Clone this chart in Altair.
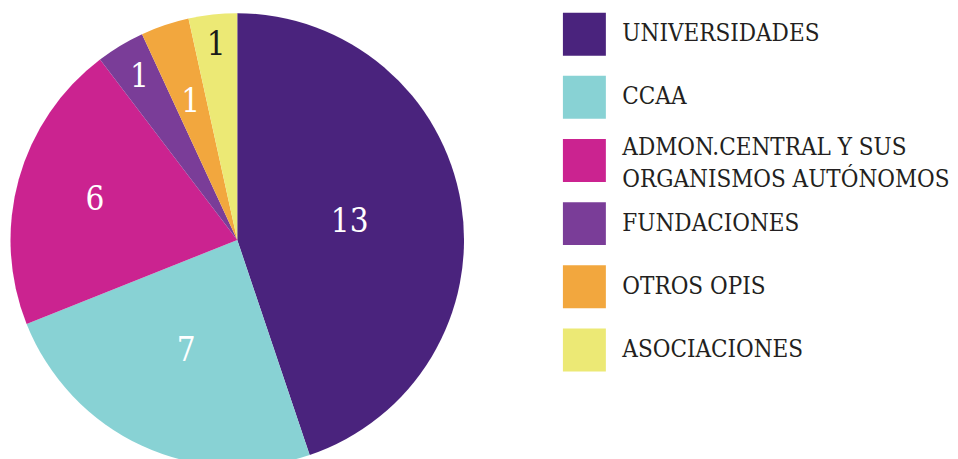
import altair as alt
import pandas as pd

categories = ["UNIVERSIDADES", "CCAA", "ADMON.CENTRAL Y SUS ORGANISMOS AUTÓNOMOS",
              "FUNDACIONES", "OTROS OPIS", "ASOCIACIONES"]
legend_labels = ["UNIVERSIDADES", "CCAA", "ADMON.CENTRAL Y SUS\nORGANISMOS AUTÓNOMOS",
                 "FUNDACIONES", "OTROS OPIS", "ASOCIACIONES"]
counts = [13, 7, 6, 1, 1, 1]
colors = ["#4a237d", "#88d2d4", "#cb2390", "#7a3d98", "#f2a73e", "#ece975"]

df = pd.DataFrame({
    "category": categories,
    "legend": legend_labels,
    "count": counts,
    "order": list(range(len(categories))),
})

FONT = "DejaVu Serif Condensed, DejaVu Serif, serif"
color_scale = alt.Scale(domain=categories, range=colors)

pie_base = alt.Chart(df).encode(
    theta=alt.Theta("count:Q", stack=True),
    order=alt.Order("order:Q"),
)
arcs = pie_base.mark_arc(outerRadius=227).encode(
    color=alt.Color("category:N", scale=color_scale, legend=None)
)
labels = pie_base.mark_text(
    font=FONT, fontSize=33,
    radius=alt.expr("[114, 122, 148, 190, 146, 196][datum.order]"),
).encode(
    text="count:Q",
    color=alt.condition("datum.category == 'ASOCIACIONES'", alt.value("#1a1a1a"), alt.value("#ffffff")),
)
pie = alt.layer(arcs, labels).properties(width=459, height=464)

leg_base = alt.Chart(df).encode(
    y=alt.Y("category:N", sort=categories,
            scale=alt.Scale(type="point", padding=0.411), axis=None)
)
swatches = leg_base.mark_square(size=1849, opacity=1, filled=True).encode(
    x=alt.value(118),
    color=alt.Color("category:N", scale=color_scale, legend=None),
)
texts = leg_base.mark_text(
    align="left", baseline="middle", lineBreak="\n", font=FONT,
    fontSize=24, lineHeight=32, color="#231f20",
    dy=alt.expr("indexof(datum.legend, 'ORGANISMOS') >= 0 ? -12 : 0"),
).encode(x=alt.value(156), text="legend:N")
legend = alt.layer(swatches, texts).properties(width=483, height=368)

chart = alt.hconcat(pie, legend, spacing=0).properties(padding=0).configure_view(stroke=None)
chart.save("out.html", embed_options={"renderer": "svg", "actions": False})
